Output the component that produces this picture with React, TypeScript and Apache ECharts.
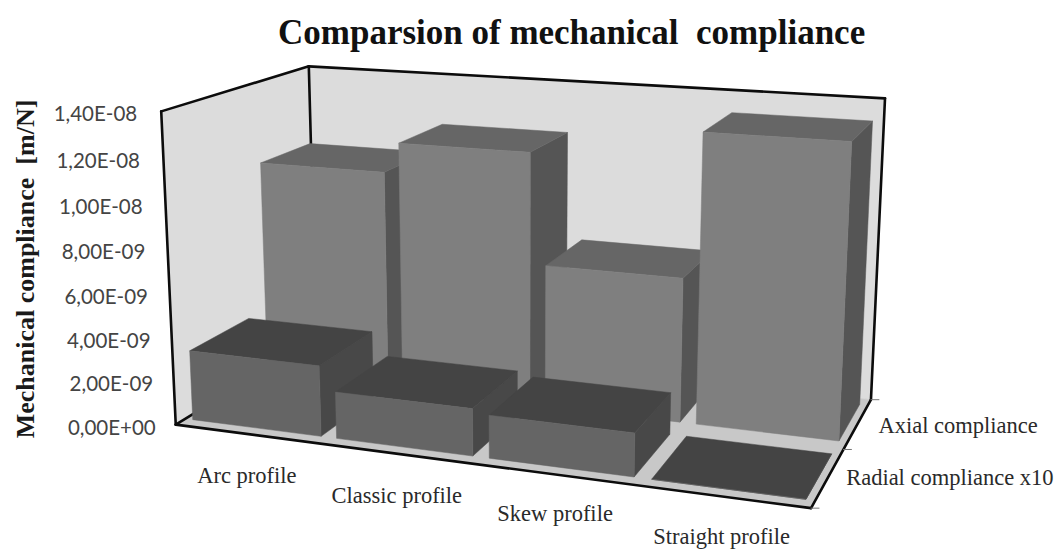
import React, { useEffect, useRef } from "react";
import * as echarts from "echarts";

const categories = ["Arc profile", "Classic profile", "Skew profile", "Straight profile"];
const axialValues = [1.03e-8, 1.17e-8, 6.6e-9, 1.31e-8];
const radialValues = [3.2e-9, 2.1e-9, 1.9e-9, 0];
const depthLabels = ["Radial compliance x10", "Axial compliance"];
const tickValues = [0, 2e-9, 4e-9, 6e-9, 8e-9, 1e-8, 1.2e-8, 1.4e-8];
const tickLabels = ["0,00E+00", "2,00E-09", "4,00E-09", "6,00E-09", "8,00E-09", "1,00E-08", "1,20E-08", "1,40E-08"];
const valueMax = 1.4e-8;

// Camera calibration: unit-cube corners of the plot box -> page pixels
const calibration: [number, number, number, number, number][] = [
  [0, 0, 0, 176, 426],
  [1, 0, 0, 811, 507],
  [0, 0, 1, 316, 337],
  [1, 0, 1, 871, 401],
  [0, 1, 0, 161, 111],
  [0, 1, 1, 309, 67],
  [1, 1, 1, 885, 98],
];

function solve(A: number[][], b: number[]) {
  const n = b.length;
  const M = A.map((r, i) => [...r, b[i]]);
  for (let i = 0; i < n; i++) {
    let p = i;
    for (let k = i + 1; k < n; k++) if (Math.abs(M[k][i]) > Math.abs(M[p][i])) p = k;
    [M[i], M[p]] = [M[p], M[i]];
    for (let k = i + 1; k < n; k++) {
      const f = M[k][i] / M[i][i];
      for (let j = i; j <= n; j++) M[k][j] -= f * M[i][j];
    }
  }
  const x = new Array(n).fill(0);
  for (let i = n - 1; i >= 0; i--) {
    let s = M[i][n];
    for (let j = i + 1; j < n; j++) s -= M[i][j] * x[j];
    x[i] = s / M[i][i];
  }
  return x;
}

function fitCamera() {
  const rows: number[][] = [];
  const rhs: number[] = [];
  calibration.forEach(([X, Y, Z, px, py]) => {
    const u = px / 1000;
    const v = py / 1000;
    rows.push([X, Y, Z, 1, 0, 0, 0, 0, -u * X, -u * Y, -u * Z]);
    rhs.push(u);
    rows.push([0, 0, 0, 0, X, Y, Z, 1, -v * X, -v * Y, -v * Z]);
    rhs.push(v);
  });
  const n = 11;
  const AtA = Array.from({ length: n }, (_, i) =>
    Array.from({ length: n }, (_, j) => rows.reduce((s, r) => s + r[i] * r[j], 0))
  );
  const Atb = Array.from({ length: n }, (_, i) => rows.reduce((s, r, k) => s + r[i] * rhs[k], 0));
  return solve(AtA, Atb);
}
const cam = fitCamera();
function project(X: number, Y: number, Z: number): [number, number] {
  const w = cam[8] * X + cam[9] * Y + cam[10] * Z + 1;
  return [
    (1000 * (cam[0] * X + cam[1] * Y + cam[2] * Z + cam[3])) / w,
    (1000 * (cam[4] * X + cam[5] * Y + cam[6] * Z + cam[7])) / w,
  ];
}

const rowDepth = [
  [0.06, 0.45],
  [0.57, 0.94],
];
const barFraction = 0.895;
const rowColors = [
  { front: "#656565", top: "#444444", side: "#484848" },
  { front: "#7f7f7f", top: "#666666", side: "#555555" },
];
const categoryLabelOffset = [
  [0, 42],
  [1, 42],
  [1, 39],
  [-1, 40],
];
const depthLabelAnchor = [
  [1, 0, 0.3, 15, 6],
  [1, 0, 0.8, 18, 7],
];

function poly(points: [number, number][], fill: string) {
  return { type: "polygon", shape: { points }, style: { fill, stroke: fill, lineWidth: 0.5 } };
}
function seg(a: [number, number], b: [number, number], width = 2.6, color = "#0c0c0c") {
  return {
    type: "line",
    shape: { x1: a[0], y1: a[1], x2: b[0], y2: b[1] },
    style: { stroke: color, lineWidth: width, lineCap: "round" },
  };
}

function barRenderer(row: number) {
  return (params: any, api: any) => {
    const w = api.getWidth();
    const h = api.getHeight();
    const c = api.coord([api.value(0), api.value(1)]);
    const half = (api.size([1, 0])[0] * barFraction) / 2;
    const x0 = (c[0] - half) / w;
    const x1 = (c[0] + half) / w;
    const y = 1 - c[1] / h;
    const [z0, z1] = rowDepth[row];
    const col = rowColors[row];
    return {
      type: "group",
      children: [
        poly([project(x1, 0, z0), project(x1, 0, z1), project(x1, y, z1), project(x1, y, z0)], col.side),
        poly([project(x0, y, z0), project(x1, y, z0), project(x1, y, z1), project(x0, y, z1)], col.top),
        poly([project(x0, 0, z0), project(x1, 0, z0), project(x1, y, z0), project(x0, y, z0)], col.front),
      ],
    };
  };
}

function boxRenderer() {
  const FL = project(0, 0, 0), FR = project(1, 0, 0), BL = project(0, 0, 1), BR = project(1, 0, 1);
  const TFL = project(0, 1, 0), TBL = project(0, 1, 1), TBR = project(1, 1, 1);
  const tickEnd = (z: number): [number, number] => {
    const p = project(1, 0, z);
    return [p[0] + 8, p[1]];
  };
  return {
    type: "group",
    children: [
      poly([FL, BL, TBL, TFL], "#dcdcdc"),
      poly([BL, BR, TBR, TBL], "#dcdcdc"),
      poly([FL, FR, BR, BL], "#c8c8c8"),
      seg(FL, TFL),
      seg(TFL, TBL),
      seg(TBL, BL),
      seg(TBL, TBR),
      seg(TBR, BR),
      seg(FL, FR),
      seg(FR, BR),
      seg(FL, BL),
      seg(BR, tickEnd(1), 1, "#777"),
      seg(project(1, 0, 0.5), tickEnd(0.5), 1, "#777"),
      seg(FR, tickEnd(0), 1, "#777"),
    ],
  };
}

export default function App() {
  const ref = useRef<HTMLDivElement>(null);
  useEffect(() => {
    const chart = echarts.init(ref.current!, undefined, { renderer: "svg" });
    const serif = '"Liberation Serif", serif';
    chart.setOption({
      animation: false,
      backgroundColor: "#ffffff",
      title: {
        text: "Comparsion of mechanical  compliance",
        left: 273,
        top: 10,
        textStyle: { fontFamily: serif, fontWeight: "bold", fontSize: 35, color: "#111111" },
      },
      grid: { left: 0, right: 0, top: 0, bottom: 0 },
      xAxis: { type: "category", data: categories, show: false },
      yAxis: { type: "value", min: 0, max: valueMax, show: false },
      graphic: [
        {
          type: "text",
          x: 25,
          y: 269,
          rotation: Math.PI / 2,
          style: {
            text: "Mechanical compliance  [m/N]",
            font: `bold 26px ${serif}`,
            fill: "#1a1a1a",
            textAlign: "center",
            textVerticalAlign: "middle",
          },
        },
      ],
      series: [
        {
          type: "custom",
          coordinateSystem: "none",
          z: 1,
          silent: true,
          clip: false,
          data: [0],
          renderItem: boxRenderer,
        },
        {
          type: "custom",
          name: depthLabels[1],
          z: 2,
          clip: false,
          data: axialValues.map((v, i) => [i, v]),
          encode: { x: 0, y: 1 },
          renderItem: barRenderer(1),
        },
        {
          type: "custom",
          name: depthLabels[0],
          z: 3,
          clip: false,
          data: radialValues.map((v, i) => [i, v]),
          encode: { x: 0, y: 1 },
          renderItem: barRenderer(0),
        },
        {
          type: "custom",
          z: 4,
          silent: true,
          clip: false,
          data: tickValues.map((v, i) => [0, v, i]),
          encode: { x: 0, y: 1 },
          renderItem: (params: any, api: any) => {
            const c = api.coord([0, api.value(1)]);
            const y = 1 - c[1] / api.getHeight();
            const p = project(0, y, 0);
            return {
              type: "text",
              style: {
                text: tickLabels[api.value(2)],
                x: p[0] - 20 - 4 * y,
                y: p[1] + 2,
                font: "20.5px Lato, sans-serif",
                fill: "#444444",
                textAlign: "right",
                textVerticalAlign: "middle",
              },
            };
          },
        },
        {
          type: "custom",
          z: 4,
          silent: true,
          clip: false,
          data: categories.map((_, i) => [i, 0]),
          encode: { x: 0, y: 1 },
          renderItem: (params: any, api: any) => {
            const i = api.value(0);
            const c = api.coord([i, 0]);
            const p = project(c[0] / api.getWidth(), 0, 0);
            return {
              type: "text",
              style: {
                text: categories[i],
                x: p[0] + categoryLabelOffset[i][0],
                y: p[1] + categoryLabelOffset[i][1],
                font: `22.5px ${serif}`,
                fill: "#2a2a2a",
                textAlign: "center",
                textVerticalAlign: "middle",
              },
            };
          },
        },
        {
          type: "custom",
          coordinateSystem: "none",
          z: 4,
          silent: true,
          clip: false,
          data: depthLabels.map((_, i) => i),
          renderItem: (params: any) => {
            const i = params.dataIndex;
            const a = depthLabelAnchor[i];
            const p = project(a[0], a[1], a[2]);
            return {
              type: "text",
              style: {
                text: depthLabels[i],
                x: p[0] + a[3],
                y: p[1] + a[4],
                font: `22.5px ${serif}`,
                fill: "#2a2a2a",
                textAlign: "left",
                textVerticalAlign: "middle",
              },
            };
          },
        },
      ],
    });
    return () => chart.dispose();
  }, []);
  return <div ref={ref} style={{ position: "absolute", left: 0, top: 0, width: 1062, height: 549 }} />;
}
